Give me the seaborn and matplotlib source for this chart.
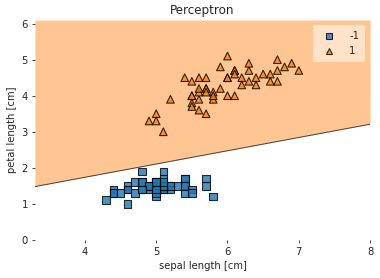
import numpy as np
import pandas as pd
import matplotlib
matplotlib.use("Agg")
import matplotlib.pyplot as plt
import seaborn as sns

setosa_sepal = [5.1,4.9,4.7,4.6,5.0,5.4,4.6,5.0,4.4,4.9,5.4,4.8,4.8,4.3,5.8,5.7,5.4,5.1,5.7,5.1,
                5.4,5.1,4.6,5.1,4.8,5.0,5.0,5.2,5.2,4.7,4.8,5.4,5.2,5.5,4.9,5.0,5.5,4.9,4.4,5.1,
                5.0,4.5,4.4,5.0,5.1,4.8,5.1,4.6,5.3,5.0]
setosa_petal = [1.4,1.4,1.3,1.5,1.4,1.7,1.4,1.5,1.4,1.5,1.5,1.6,1.4,1.1,1.2,1.5,1.3,1.4,1.7,1.5,
                1.7,1.5,1.0,1.7,1.9,1.6,1.6,1.5,1.4,1.6,1.6,1.5,1.5,1.4,1.5,1.2,1.3,1.5,1.3,1.5,
                1.3,1.3,1.3,1.6,1.9,1.4,1.6,1.4,1.5,1.4]
versi_sepal = [7.0,6.4,6.9,5.5,6.5,5.7,6.3,4.9,6.6,5.2,5.0,5.9,6.0,6.1,5.6,6.7,5.6,5.8,6.2,5.6,
               5.9,6.1,6.3,6.1,6.4,6.6,6.8,6.7,6.0,5.7,5.5,5.5,5.8,6.0,5.4,6.0,6.7,6.3,5.6,5.5,
               5.5,6.1,5.8,5.0,5.6,5.7,5.7,6.2,5.1,5.7]
versi_petal = [4.7,4.5,4.9,4.0,4.6,4.5,4.7,3.3,4.6,3.9,3.5,4.2,4.0,4.7,3.6,4.4,4.5,4.1,4.5,3.9,
               4.8,4.0,4.9,4.7,4.3,4.4,4.8,5.0,4.5,3.5,3.8,3.7,3.9,5.1,4.5,4.5,4.7,4.4,4.1,4.0,
               4.4,4.6,4.0,3.3,4.2,4.2,4.2,4.3,3.0,4.1]
class_labels = [-1, 1]
boundary_x = [3.3, 8.0]
boundary_y = [1.48, 3.21]
x_limits = [3.3, 8.0]
y_limits = [0.0, 6.1]

df = pd.DataFrame({
    "sepal": setosa_sepal + versi_sepal,
    "petal": setosa_petal + versi_petal,
    "label": [class_labels[0]] * len(setosa_sepal) + [class_labels[1]] * len(versi_sepal),
})

sns.set_style("white")
fig = plt.figure(figsize=(3.8, 2.78), dpi=100)
ax = fig.add_axes([0.092, 0.137, 0.882, 0.791])

ax.fill_between(boundary_x, boundary_y, y_limits[1], color="#ff7f0e", alpha=0.45, linewidth=0)
ax.plot(boundary_x, boundary_y, color="#444444", linewidth=0.7)

sns.scatterplot(data=df, x="sepal", y="petal", hue="label", style="label",
                palette={-1: "#1f77b4", 1: "#ff7f0e"}, markers={-1: "s", 1: "^"},
                s=30, alpha=0.8, edgecolor="black", linewidth=0.8, ax=ax, legend=True)

ax.set_xlim(*x_limits)
ax.set_ylim(*y_limits)
for sp in ax.spines.values():
    sp.set_visible(False)
ax.tick_params(axis="both", which="both", length=2.5, width=0.6, pad=2.5, direction="out",
               left=True, bottom=True, labelsize=7.2)
ax.set_xlabel("sepal length [cm]", fontsize=7.2, labelpad=3)
ax.set_ylabel("petal length [cm]", fontsize=7.2, labelpad=3)
ax.set_title("Perceptron", fontsize=8.6, pad=4)
leg = ax.legend(loc="upper right", fontsize=7.2, framealpha=0.5, edgecolor="none",
                handletextpad=1.0, borderpad=0.6, markerscale=0.8)

fig.savefig("out.png", dpi=100)
